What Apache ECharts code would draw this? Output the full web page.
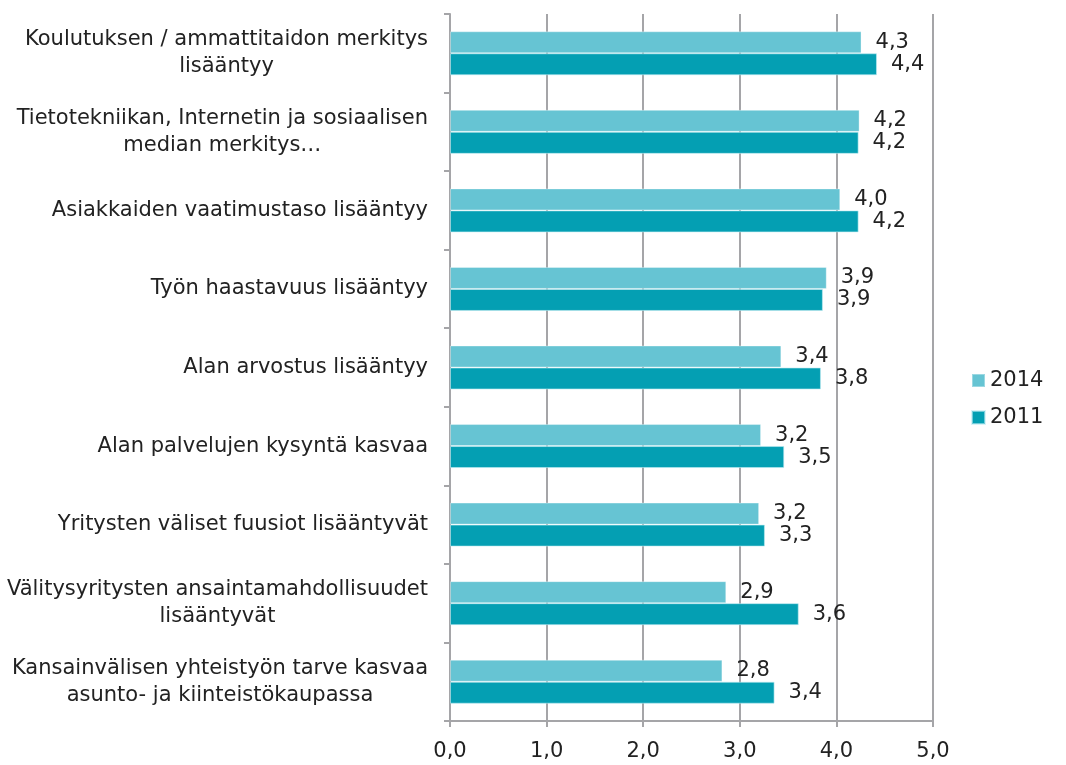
<!DOCTYPE html>
<html>
<head>
<meta charset="utf-8">
<script src="https://cdn.jsdelivr.net/npm/echarts@6/dist/echarts.min.js"></script>
<style>
  html, body { margin: 0; padding: 0; background: #fff; }
  #chart { width: 1066px; height: 765px; }
</style>
</head>
<body>
<div id="chart"></div>
<script>
// Survey statements (top to bottom)
const categories = [
  'Koulutuksen / ammattitaidon merkitys\nlisääntyy',
  'Tietotekniikan, Internetin ja sosiaalisen\nmedian merkitys…',
  'Asiakkaiden vaatimustaso lisääntyy',
  'Työn haastavuus lisääntyy',
  'Alan arvostus lisääntyy',
  'Alan palvelujen kysyntä kasvaa',
  'Yritysten väliset fuusiot lisääntyvät',
  'Välitysyritysten ansaintamahdollisuudet\nlisääntyvät',
  'Kansainvälisen yhteistyön tarve kasvaa\nasunto- ja kiinteistökaupassa'
];

// Average ratings per year
const values2014 = [4.26, 4.24, 4.04, 3.90, 3.43, 3.22, 3.20, 2.86, 2.82];
const values2011 = [4.42, 4.23, 4.23, 3.86, 3.84, 3.46, 3.26, 3.61, 3.36];

const seriesNames = ['2014', '2011'];
const xTicks = { min: 0, max: 5, interval: 1 };

const FONT = 'DejaVu Sans';
const FS = 21;
const fmt = v => Number(v).toFixed(1).replace('.', ',');

const chart = echarts.init(document.getElementById('chart'), null, { renderer: 'canvas' });

const barLabel = {
  show: true,
  position: 'right',
  distance: 14,
  color: '#222',
  fontFamily: FONT,
  fontSize: FS,
  formatter: p => fmt(p.value)
};

chart.setOption({
  animation: false,
  backgroundColor: '#ffffff',
  grid: { left: 450, right: 133, top: 14, bottom: 44, containLabel: false },
  legend: {
    data: seriesNames,
    orient: 'vertical',
    left: 966,
    top: 365,
    itemWidth: 13,
    itemHeight: 13,
    itemGap: 16,
    icon: 'rect',
    textStyle: { fontFamily: FONT, fontSize: FS, color: '#222', padding: [0, 0, 0, 0] }
  },
  xAxis: {
    type: 'value',
    min: xTicks.min,
    max: xTicks.max,
    interval: xTicks.interval,
    axisLine: { show: true, lineStyle: { color: '#a5a5a8', width: 2 } },
    axisTick: { show: true, length: 6, lineStyle: { color: '#a5a5a8', width: 2 } },
    splitLine: { show: true, lineStyle: { color: '#a5a5a8', width: 2 } },
    axisLabel: { fontFamily: FONT, fontSize: FS, color: '#222', margin: 20, formatter: fmt }
  },
  yAxis: {
    type: 'category',
    data: categories,
    inverse: true,
    axisLine: { show: true, lineStyle: { color: '#a5a5a8', width: 2 } },
    axisTick: { show: true, length: 6, lineStyle: { color: '#a5a5a8', width: 2 } },
    axisLabel: {
      fontFamily: FONT,
      fontSize: FS,
      color: '#222',
      margin: 22,
      lineHeight: 27,
      formatter: v => v.split('\n').map(l => '{c|' + l + '}').join('\n'),
      rich: { c: { align: 'center', fontFamily: FONT, fontSize: FS, color: '#222', lineHeight: 27 } }
    }
  },
  series: [
    {
      name: seriesNames[0],
      type: 'bar',
      data: values2014,
      barGap: '0%',
      barCategoryGap: '44%',
      itemStyle: { color: '#66c4d3', borderColor: 'rgba(255,255,255,0.35)', borderWidth: 1 },
      label: barLabel
    },
    {
      name: seriesNames[1],
      type: 'bar',
      data: values2011,
      barGap: '0%',
      barCategoryGap: '44%',
      itemStyle: { color: '#049fb3', borderColor: 'rgba(190,235,242,0.6)', borderWidth: 1 },
      label: barLabel
    }
  ]
});
</script>
</body>
</html>
